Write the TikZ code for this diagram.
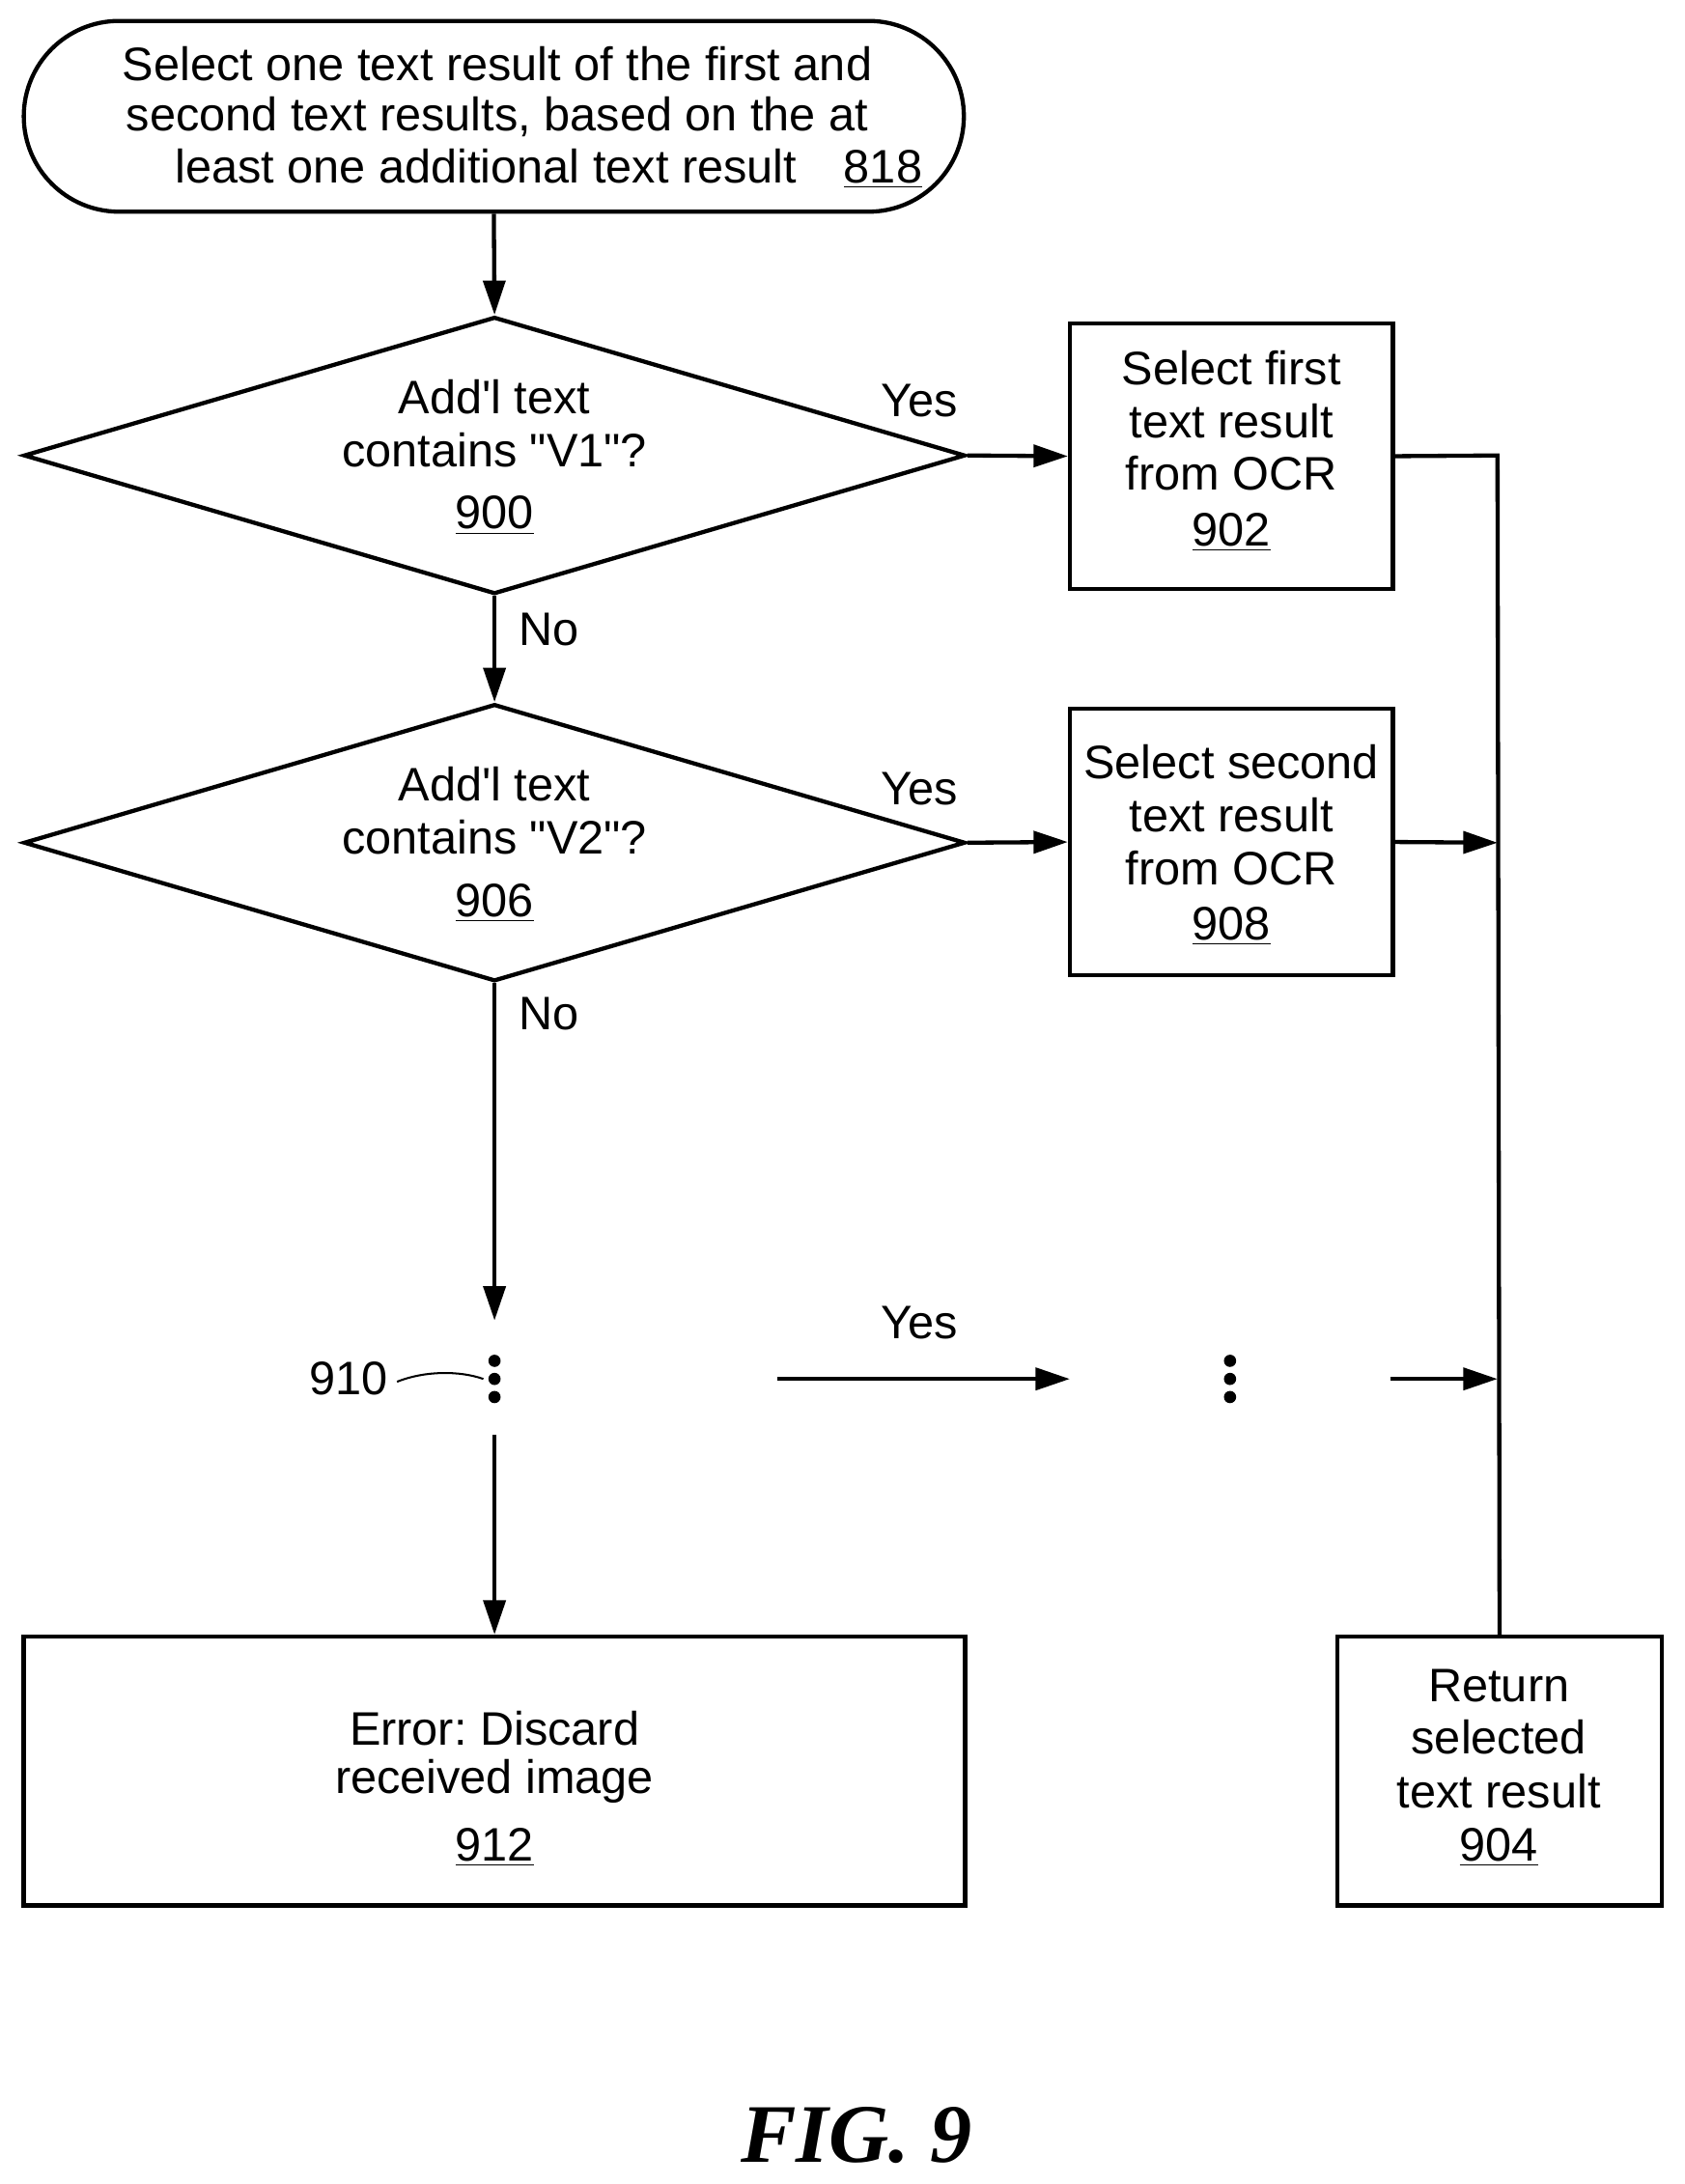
\documentclass[tikz,border=0pt]{standalone}
\usepackage{fontspec}
\setmainfont[Ligatures=TeXOff]{Liberation Sans}
\usetikzlibrary{shapes.geometric,arrows.meta}
\frenchspacing
\begin{document}
\begin{tikzpicture}[x=0.02cm,y=-0.02cm,
  line width=1.7pt,
  ln/.style={line width=1.7pt},
  arr/.style={ln,-{Triangle[length=14pt,width=9pt]}},
  box/.style={draw,ln,rectangle,inner sep=0},
  dia/.style={draw,ln,diamond,inner sep=0,minimum width=13.52cm,minimum height=3.98cm},
  dot/.style={circle,fill,inner sep=0,minimum size=5pt},
  t/.style={inner sep=0,font=\fontsize{19.2}{22}\selectfont,anchor=center}]
\useasboundingbox (0,0) rectangle (1209,1568);
% terminal
\node[draw,ln,rounded corners=1.37cm,minimum width=13.5cm,minimum height=2.74cm,inner sep=0] (s) at (354.5,83.5) {};
\node[t] (s1) at (357,46) {Select one text result of the first and};
\node[t] (s2) at (357,84) {second text results, based on the at};
\node[t] (s3) at (394,121) {least one additional text result\quad \underline{818}};
% diamonds
\node[dia] (d1) at (355,327) {};
\node[t] (d1a) at (355,285) {Add'l text};
\node[t] (d1b) at (355,323) {contains "V1"?};
\node[t] (d1c) at (355,370) {\underline{900}};
\node[dia] (d2) at (355,605) {};
\node[t] (d2a) at (355,563) {Add'l text};
\node[t] (d2b) at (355,601) {contains "V2"?};
\node[t] (d2c) at (355,648) {\underline{906}};
% boxes
\node[box,minimum width=4.64cm,minimum height=3.82cm] (b1) at (884,327.5) {};
\node[t] (b1a) at (884,264) {Select first};
\node[t] (b1b) at (884,302) {text result};
\node[t] (b1c) at (884,340) {from OCR};
\node[t] (b1d) at (884,382) {\underline{902}};
\node[box,minimum width=4.64cm,minimum height=3.82cm] (b2) at (884,604.5) {};
\node[t] (b2a) at (884,547) {Select second};
\node[t] (b2b) at (884,585) {text result};
\node[t] (b2c) at (884,623) {from OCR};
\node[t] (b2d) at (884,665) {\underline{908}};
\node[box,minimum width=13.52cm,minimum height=3.86cm] (e) at (355,1271.5) {};
\node[t] (ea) at (355,1241) {Error: Discard};
\node[t] (eb) at (355,1279) {received image};
\node[t] (ec) at (355,1326) {\underline{912}};
\node[box,minimum width=4.66cm,minimum height=3.86cm] (r) at (1076.5,1271.5) {};
\node[t] (ra) at (1076,1210) {Return};
\node[t] (rb) at (1076,1247) {selected};
\node[t] (rc) at (1076,1286) {text result};
\node[t] (rd) at (1076,1326) {\underline{904}};
% dots
\node[dot] (v1a) at (355,977) {};
\node[dot] (v1) at (355,990) {};
\node[dot] (v1c) at (355,1003) {};
\node[dot] (v2a) at (883,977) {};
\node[dot] (v2) at (883,990) {};
\node[dot] (v2c) at (883,1003) {};
\node[t] (l910) at (250,990) {910};
\draw[line width=0.8pt] (285,992) .. controls (305,984) and (330,984) .. (347,990);
% labels
\node[t] (y1) at (660,288) {Yes};
\node[t] (y2) at (660,566) {Yes};
\node[t] (y3) at (660,950) {Yes};
\node[t] (n1) at (394,452) {No};
\node[t] (n2) at (394,728) {No};
% connectors
\coordinate (c1) at (1075,327);
\coordinate (c2) at (1075,605);
\coordinate (c3) at (1075,990);
\coordinate (a1) at (355,948);
\coordinate (a2) at (355,1030);
\coordinate (h1) at (558,990);
\coordinate (h2) at (768,990);
\coordinate (h3) at (998,990);
\draw[arr] (s.south) -- (d1.north);
\draw[arr] (d1.east) -- (b1.west);
\draw[arr] (d1.south) -- (d2.north);
\draw[arr] (d2.east) -- (b2.west);
\draw[arr] (d2.south) -- (a1);
\draw[arr] (a2) -- (e.north);
\draw[arr] (h1) -- (h2);
\draw[arr] (h3) -- (c3);
\draw[ln] (b1.east) -- (c1) -- (r.north);
\draw[arr] (b2.east) -- (c2);
% fig
\node[inner sep=0,font=\fontsize{34}{40}\selectfont\fontspec{Liberation Serif}\bfseries\itshape] (fig) at (615,1533) {FIG. 9};
\end{tikzpicture}
\end{document}
